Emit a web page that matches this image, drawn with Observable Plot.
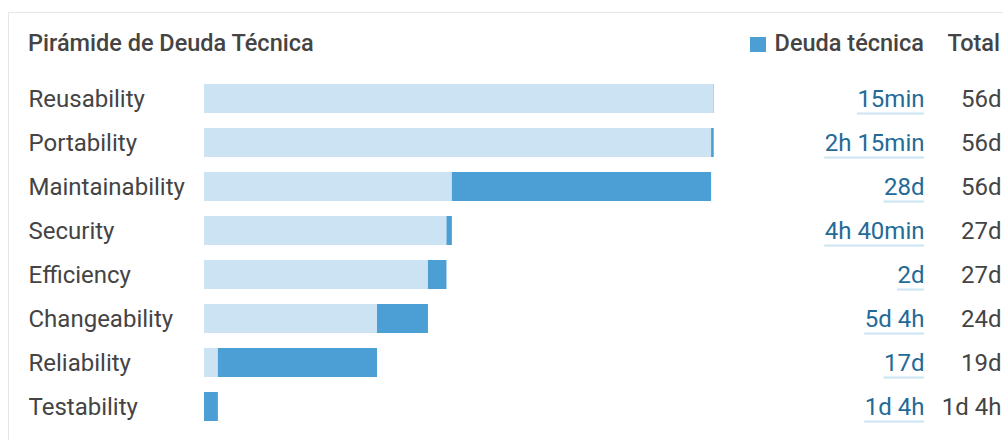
<!DOCTYPE html>
<html>
<head>
<meta charset="utf-8">
<script src="https://cdn.jsdelivr.net/npm/d3@7"></script>
<script src="https://cdn.jsdelivr.net/npm/@observablehq/plot@0.6"></script>
<style>
  html, body { margin: 0; padding: 0; background: #fff; }
  body { width: 1003px; height: 440px; overflow: hidden; position: relative; font-family: Roboto, "Noto Sans", sans-serif; color: #444; }
  #card { position: absolute; left: 8px; top: 12px; width: 1200px; height: 600px; border: 1px solid #e6e6e6; box-sizing: border-box; }
  .hdr { position: absolute; font-size: 23.5px; line-height: 24px; font-weight: 500; white-space: nowrap; color: #444; }
  #swatch { position: absolute; left: 750px; top: 37px; width: 16px; height: 15px; background: #4b9fd5; }
  #chart { position: absolute; left: 0; top: 60px; }
</style>
</head>
<body>
<div id="card"></div>
<div class="hdr" style="left:28px; top:31px;">Pirámide de Deuda Técnica</div>
<div id="swatch"></div>
<div class="hdr" style="right:79px; top:31px;">Deuda técnica</div>
<div class="hdr" style="right:3px; top:31px;">Total</div>
<div id="chart"></div>
<script>
const categories = ["Reusability","Portability","Maintainability","Security","Efficiency","Changeability","Reliability","Testability"];
// debt in hours (8h day)
const debtHours = [0.25, 2.25, 224, 4.67, 16, 44, 137.5, 12];
const debtLabels = ["15min","2h 15min","28d","4h 40min","2d","5d 4h","17d","1d 4h"];
const totalLabels = ["56d","56d","56d","27d","27d","24d","19d","1d 4h"];

const DEBT_COLOR = "#236a97";
const FONT = "24px Roboto";
const DEBT_RIGHT = 924;

// cumulative pyramid: each row starts where the rows below it end
const n = categories.length;
const rows = categories.map((c, i) => {
  let start = 0;
  for (let j = i + 1; j < n; j++) start += debtHours[j];
  return {cat: c, start, end: start + debtHours[i], debt: debtLabels[i], total: totalLabels[i]};
});
const grand = d3.sum(debtHours);

// measure text widths for the link underlines
const ctx = document.createElement("canvas").getContext("2d");
ctx.font = FONT;

function underlines(index, scales, values, dimensions) {
  const g = d3.create("svg:g").attr("aria-label", "underlines");
  const bw = scales.y.bandwidth ? scales.y.bandwidth() : 0;
  rows.forEach(r => {
    const w = ctx.measureText(r.debt).width;
    const yc = scales.y(r.cat) + bw / 2 + 15;
    g.append("line")
      .attr("x1", DEBT_RIGHT - w).attr("x2", DEBT_RIGHT)
      .attr("y1", yc).attr("y2", yc)
      .attr("stroke", "#cbe3f2").attr("stroke-width", 2);
  });
  return g.node();
}

const plot = Plot.plot({
  width: 1003,
  height: 380,
  marginLeft: 0,
  marginRight: 0,
  marginTop: 8.4,
  marginBottom: 3.5,
  x: {domain: [0, grand], range: [204, 714], axis: null},
  y: {domain: categories, padding: 0.343, axis: null},
  style: {fontFamily: "Roboto, 'Noto Sans', sans-serif", background: "transparent"},
  marks: [
    Plot.barX(rows.filter(d => d.start > 0), {y: "cat", x1: 0, x2: "start", fill: "#cbe3f2"}),
    Plot.barX(rows, {y: "cat", x1: "start", x2: "end", fill: "#4b9fd5"}),
    Plot.text(rows, {y: "cat", text: "cat", frameAnchor: "left", textAnchor: "start", dx: 28, fontSize: 24, fill: "#444"}),
    Plot.text(rows, {y: "cat", text: "debt", frameAnchor: "left", textAnchor: "end", dx: DEBT_RIGHT, fontSize: 24, fill: DEBT_COLOR}),
    Plot.text(rows, {y: "cat", text: "total", frameAnchor: "left", textAnchor: "end", dx: 1001, fontSize: 24, fill: "#444"}),
    underlines
  ]
});
document.getElementById("chart").appendChild(plot);
</script>
</body>
</html>
